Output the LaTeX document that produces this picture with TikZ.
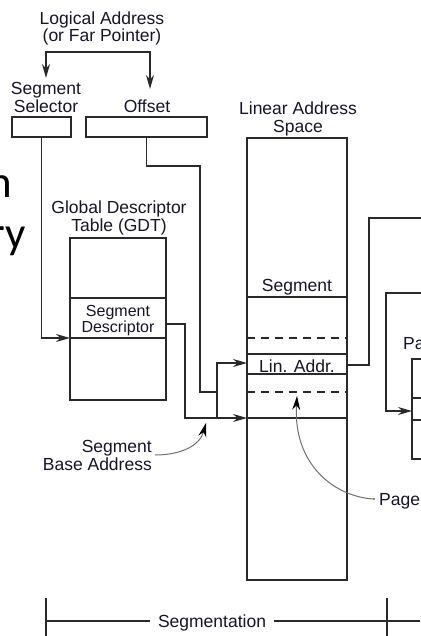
\documentclass[tikz,border=0pt]{standalone}
\usepackage{fontspec}
\setmainfont{Liberation Sans}
\newfontfamily\slidefont{Carlito}
\usetikzlibrary{arrows.meta}
\definecolor{linec}{HTML}{2A2A2A}
\definecolor{txtc}{HTML}{15152A}
\definecolor{curvec}{HTML}{707070}
\begin{document}
\begin{tikzpicture}[x=1pt,y=-1pt,
  ln/.style={draw=linec, line width=1.5pt},
  arr/.style={ln, -{Stealth[length=14pt,width=8pt]}},
  dual/.style={ln, {Stealth[length=14pt,width=8pt]}-{Stealth[length=14pt,width=8pt]}},
  lbl/.style={font=\fontsize{17.5}{18}\selectfont, text=txtc, inner sep=0pt, anchor=base},
  sml/.style={font=\fontsize{16}{16}\selectfont, text=txtc, inner sep=0pt, anchor=base},
  big/.style={font=\slidefont\fontsize{45}{45}\selectfont, text=black, inner sep=0pt, anchor=base east},
  boxx/.style={draw=linec, line width=1.5pt, inner sep=0pt},
  dashln/.style={draw=linec, line width=2pt, dash pattern=on 8pt off 6pt},
  pointer/.style={draw=curvec, line width=1pt, -{Stealth[length=14pt,width=8pt,color=black]}}
]
\useasboundingbox (0,0) rectangle (420,636);

% cropped slide text on the left
\node[big] (s1) at (12,198) {n};
\node[big] (s2) at (26,248) {ry};

% logical address
\node[lbl] (la1) at (102,25) {Logical Address};
\node[lbl] (la2) at (102,42) {(or Far Pointer)};
\coordinate (lt) at (46,78);
\coordinate (rt) at (150,89);
\draw[dual] (lt) -- (46,52) -- (150,52) -- (rt);

% selector and offset
\node[lbl] (ss1) at (46,95) {Segment};
\node[lbl] (ss2) at (46,113) {Selector};
\node[lbl] (of) at (147,113) {Offset};
\node[boxx, minimum width=59pt, minimum height=20pt] (sel) at (41.5,127) {};
\node[boxx, minimum width=121pt, minimum height=20pt] (off) at (146.5,127) {};

% GDT
\node[lbl] (g1) at (119,213) {Global Descriptor};
\node[lbl] (g2) at (119,231) {Table (GDT)};
\node[boxx, minimum width=96pt, minimum height=162pt] (gdt) at (118,319) {};
\draw[ln] (70,298) -- (166,298);
\draw[ln] (70,338) -- (166,338);
\node[sml] (sd1) at (118,316) {Segment};
\node[sml] (sd2) at (118,332) {Descriptor};

% linear address space
\node[lbl] (l1) at (298,115) {Linear Address};
\node[lbl] (l2) at (298,133) {Space};
\node[boxx, minimum width=100pt, minimum height=442pt] (lin) at (297,359) {};
\draw[ln] (247,297) -- (347,297);
\draw[dashln] (247,338) -- (347,338);
\draw[ln] (247,354) -- (347,354);
\draw[ln] (247,374) -- (347,374);
\draw[dashln] (247,392) -- (347,392);
\draw[ln] (247,418) -- (347,418);
\node[lbl] (seg) at (297,291) {Segment};
\node[lbl] (la) at (297,372) {Lin. Addr.};

% page table (cropped)
\node[lbl, anchor=base west] (pa) at (403,349) {Pa};
\node[boxx, minimum width=80pt, minimum height=100pt] (pt) at (452,409) {};
\draw[ln] (412,398) -- (492,398);
\draw[ln] (412,420) -- (492,420);

% connectors
\coordinate (gdtin) at (70,338);
\draw[arr] (sel.south) |- (gdtin);
\coordinate (oj) at (217,392);
\draw[ln] (off.south) -- (146.5,166) -- (200,166) -- (200,392) -- (oj);
\coordinate (sdout) at (166,324);
\coordinate (basein) at (247,418);
\draw[arr] (sdout) -- (185,324) -- (185,418) -- (basein);
\coordinate (linin) at (247,363);
\draw[arr] (217,418) |- (linin);
\coordinate (laout) at (347,365);
\draw[ln] (laout) -- (369,365) -- (369,218) -- (425,218);
\coordinate (ptin) at (412,411);
\draw[arr] (425,293) -- (386,293) -- (386,411) -- (ptin);

% segment base address label
\node[lbl, anchor=base east] (sb1) at (152,452) {Segment};
\node[lbl, anchor=base east] (sb2) at (152,470) {Base Address};
\coordinate (sbs) at (155,455);
\coordinate (sbt) at (206,423);
\draw[pointer] (sbs) .. controls (182,455) and (200,445) .. (sbt);

% page label
\node[lbl, anchor=base west] (pg) at (379,505) {Page};
\coordinate (pgs) at (374,499);
\coordinate (pgt) at (297,396);
\fill[curvec] (pgs) circle (1.2pt);
\draw[pointer] (pgs) .. controls (335,497) and (293,465) .. (pgt);

% segmentation bar
\draw[ln] (46,598) -- (46,636);
\draw[ln] (387,598) -- (387,636);
\node[lbl] (segm) at (212,627) {Segmentation};
\draw[ln] (46,621) -- (150,621);
\draw[ln] (274,621) -- (420,621);
\end{tikzpicture}
\end{document}
